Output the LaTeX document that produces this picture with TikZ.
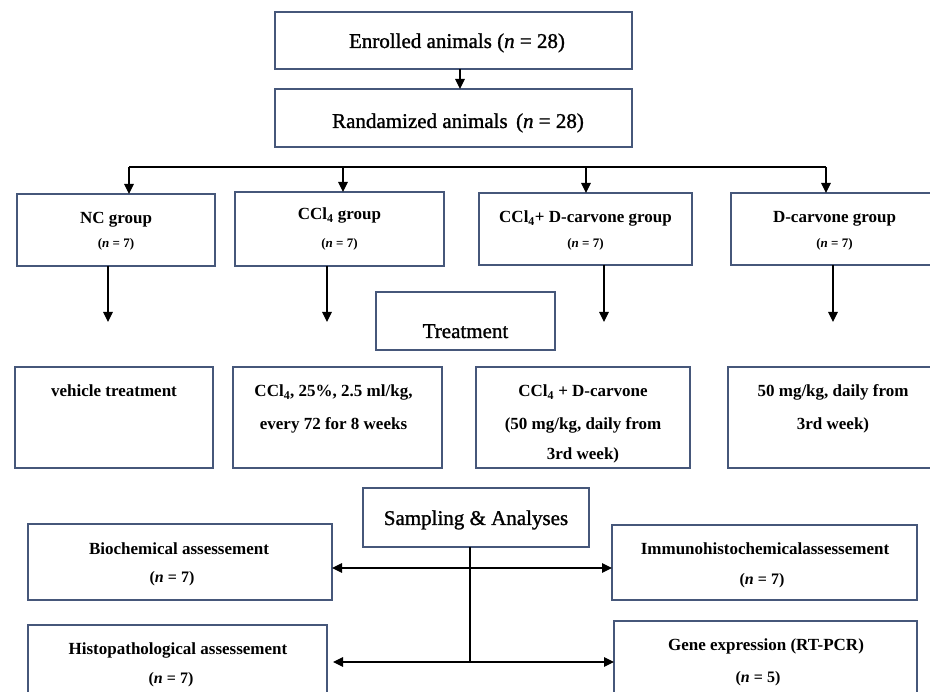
\documentclass[tikz,border=0pt]{standalone}
\usepackage{fontspec}
\setmainfont{Liberation Serif}
\newfontfamily\medfont[FakeBold=1.2]{Liberation Serif}
\usetikzlibrary{arrows.meta,calc}
\definecolor{boxcol}{HTML}{46577A}
\begin{document}
\begin{tikzpicture}[x=1pt,y=-1pt,
 box/.style={draw=boxcol,line width=1.5pt,inner sep=0pt,outer sep=0pt,rectangle},
 arr/.style={line width=1.1pt,-{Triangle[length=10pt,width=9.5pt]}},
 big/.style={font=\fontsize{21}{21}\medfont,inner sep=0pt,anchor=base},
 tone/.style={font=\fontsize{17}{17}\selectfont\bfseries,inner sep=0pt,anchor=base},
 ttwo/.style={font=\fontsize{13}{13}\selectfont\bfseries,inner sep=0pt,anchor=base},
 tthree/.style={font=\fontsize{16}{16}\selectfont\bfseries,inner sep=0pt,anchor=base},
]
\useasboundingbox (0,0) rectangle (930,692);
\clip (0,0) rectangle (930,692);
\fill[white] (0,0) rectangle (930,692);

% boxes
\node[box,minimum width=357,minimum height=57] (enr) at (453.5,40.5) {};
\node[box,minimum width=357,minimum height=58] (rnd) at (453.5,118) {};
\node[box,minimum width=198,minimum height=72] (nc) at (116,230) {};
\node[box,minimum width=209,minimum height=74] (ccl) at (339.5,229) {};
\node[box,minimum width=213,minimum height=72] (cd) at (585.5,229) {};
\node[box,minimum width=207,minimum height=72] (dc) at (834.5,229) {};
\node[box,minimum width=179,minimum height=58] (trt) at (465.5,321) {};
\node[box,minimum width=198,minimum height=101] (veh) at (114,417.5) {};
\node[box,minimum width=209,minimum height=101] (cclt) at (337.5,417.5) {};
\node[box,minimum width=214,minimum height=101] (cdt) at (583,417.5) {};
\node[box,minimum width=210,minimum height=101] (dct) at (833,417.5) {};
\node[box,minimum width=226,minimum height=59] (samp) at (476,517.5) {};
\node[box,minimum width=304,minimum height=76] (bio) at (180,562) {};
\node[box,minimum width=299,minimum height=85] (histo) at (177.5,667.5) {};
\node[box,minimum width=305,minimum height=75] (imm) at (764.5,562.5) {};
\node[box,minimum width=303,minimum height=89] (gene) at (765.5,665.5) {};

% texts
\node[big] (tenr) at (457,48) {Enrolled animals (\textit{n} = 28)};
\node[big] (trnd) at (458,128) {Randamized animals\hspace{0.4em}(\textit{n} = 28)};
\node[tone] (tnc1) at (116,224) {NC group};
\node[ttwo] (tnc2) at (116,248) {(\textit{n} = 7)};
\node[tone] (tccl1) at (339.5,220) {CCl\textsubscript{4} group};
\node[ttwo] (tccl2) at (339.5,248) {(\textit{n} = 7)};
\node[tone] (tcd1) at (585.5,223) {CCl\textsubscript{4}+ D-carvone group};
\node[ttwo] (tcd2) at (585.5,248) {(\textit{n} = 7)};
\node[tone] (tdc1) at (834.5,223) {D-carvone group};
\node[ttwo] (tdc2) at (834.5,248) {(\textit{n} = 7)};
\node[big] (ttrt) at (465.5,338) {Treatment};
\node[tone] (tveh) at (114,397) {vehicle treatment};
\node[tone] (tcclt1) at (333.5,397) {CCl\textsubscript{4}, 25\%, 2.5 ml/kg,};
\node[tone] (tcclt2) at (333.5,430) {every 72 for 8 weeks};
\node[tone] (tcdt1) at (583,397) {CCl\textsubscript{4} + D-carvone};
\node[tone] (tcdt2) at (583,430) {(50 mg/kg, daily from};
\node[tone] (tcdt3) at (583,460) {3rd week)};
\node[tone] (tdct1) at (833,397) {50 mg/kg, daily from};
\node[tone] (tdct2) at (833,430) {3rd week)};
\node[big] (tsamp) at (476,525) {Sampling \& Analyses};
\node[tone] (tbio1) at (179,555) {Biochemical assessement};
\node[tthree] (tbio2) at (172,583) {(\textit{n} = 7)};
\node[tone] (this1) at (178,655) {Histopathological assessement};
\node[tthree] (this2) at (171,683) {(\textit{n} = 7)};
\node[tone] (timm1) at (765,555) {Immunohistochemicalassessement};
\node[tthree] (timm2) at (762,585) {(\textit{n} = 7)};
\node[tone] (tgene1) at (766,650) {Gene expression (RT-PCR)};
\node[tthree] (tgene2) at (758,682) {(\textit{n} = 5)};

% connectors
\draw[arr] ([xshift=6.5pt]enr.south) -- ([xshift=6.5pt]rnd.north);
\coordinate (d1) at (129,167);
\coordinate (d2) at (343,167);
\coordinate (d3) at (586,167);
\coordinate (d4) at (826,167);
\draw[line width=2.6pt] (d1) -- (d4);
\draw[arr] (d1) -- (d1 |- nc.north);
\draw[arr] (d2) -- (d2 |- ccl.north);
\draw[arr] (d3) -- (d3 |- cd.north);
\draw[arr] (d4) -- (d4 |- dc.north);
\coordinate (e1) at (108,322);
\coordinate (e2) at (327,322);
\coordinate (e3) at (604,322);
\coordinate (e4) at (833,322);
\draw[arr] (e1 |- nc.south) -- (e1);
\draw[arr] (e2 |- ccl.south) -- (e2);
\draw[arr] (e3 |- cd.south) -- (e3);
\draw[arr] (e4 |- dc.south) -- (e4);
\coordinate (s1) at (470,568);
\coordinate (s2) at (470,662);
\draw[line width=1.8pt] (s2 |- samp.south) -- (s2);
\draw[arr] (s1) -- (s1 -| bio.east);
\draw[arr] (s1) -- (s1 -| imm.west);
\draw[arr] (s2) -- ($(s2 -| histo.east)+(6,0)$);
\draw[arr] (s2) -- (s2 -| gene.west);
\end{tikzpicture}
\end{document}
